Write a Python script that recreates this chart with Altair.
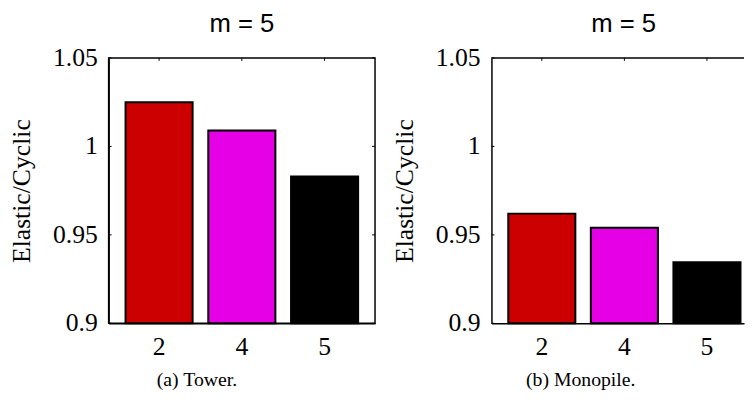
import altair as alt
import pandas as pd

# ---- data ----
categories = ["2", "4", "5"]
tower_values = [1.025, 1.009, 0.983]
monopile_values = [0.962, 0.954, 0.9345]
bar_colors = ["#cc0000", "#e600e6", "#000000"]
y_ticks = [0.9, 0.95, 1.0, 1.05]
y_tick_labels = ["0.9", "0.95", "1", "1.05"]
y_domain = [0.9, 1.05]
panel_title = "m = 5"
captions = ["(a) Tower.", "(b) Monopile."]
y_title = "Elastic/Cyclic"

PLOT_H = 269
UNIT = 87.1  # pixels per category step
SERIF = "Liberation Serif"
SANS = "Liberation Sans"
TICK_FONT = 26


def panel(values, caption, width, full_box, caption_x, title_dx):
    positions = list(range(1, len(categories) + 1))
    df = pd.DataFrame({"pos": positions, "cat": categories, "val": values, "color": bar_colors})
    tick_df = pd.DataFrame({"val": y_ticks, "lab": y_tick_labels})
    x_domain = [0.45, 0.45 + width / UNIT]
    xscale = alt.Scale(domain=x_domain, nice=False, zero=False)
    yscale = alt.Scale(domain=y_domain, nice=False, zero=False)

    x_axis = alt.Axis(
        values=positions, labels=False, ticks=False, tickSize=0, grid=False,
        domain=True, domainColor="black", domainWidth=1.5,
        title=caption, titleFont=SERIF, titleFontSize=20, titleFontWeight="normal",
        titleColor="black", titleX=caption_x, titleY=57, titleBaseline="middle",
        titleAlign="center",
    )
    y_axis = alt.Axis(
        values=y_ticks, labels=False, ticks=False, tickSize=0, grid=False,
        domain=True, domainColor="black", domainWidth=1.5,
        title=y_title, titleFont=SERIF, titleFontSize=26, titleFontWeight="normal",
        titleColor="black", titlePadding=75,
    )

    bars = alt.Chart(df).mark_bar(size=68, stroke="black", strokeWidth=2).encode(
        x=alt.X("pos:Q", scale=xscale, axis=x_axis),
        y=alt.Y("val:Q", scale=yscale, axis=y_axis),
        y2=alt.datum(y_domain[0]),
        color=alt.Color("color:N", scale=None, legend=None),
    )

    # tick labels (serif, like the reference)
    y_labels = alt.Chart(tick_df).mark_text(
        align="right", baseline="middle", font=SERIF, fontSize=TICK_FONT, color="black"
    ).encode(
        y=alt.Y("val:Q", scale=yscale),
        x=alt.value(-11),
        text="lab:N",
    )
    x_labels = alt.Chart(df).mark_text(
        align="center", baseline="middle", font=SERIF, fontSize=TICK_FONT, color="black"
    ).encode(
        x=alt.X("pos:Q", scale=xscale),
        y=alt.value(PLOT_H + 24),
        text="cat:N",
    )

    # inward ticks
    top_ticks = alt.Chart(df).mark_rule(color="black", strokeWidth=1).encode(
        x=alt.X("pos:Q", scale=xscale),
        y=alt.value(0),
        y2=alt.value(3),
    )
    left_ticks = alt.Chart(tick_df).mark_rule(color="black", strokeWidth=1).encode(
        y=alt.Y("val:Q", scale=yscale),
        x=alt.value(0),
        x2=alt.value(3),
    )
    layers = [bars, y_labels, x_labels, top_ticks, left_ticks]
    if full_box:
        right_ticks = alt.Chart(tick_df).mark_rule(color="black", strokeWidth=1).encode(
            y=alt.Y("val:Q", scale=yscale),
            x=alt.value(width - 3),
            x2=alt.value(width),
        )
        layers.append(right_ticks)
        view = alt.ViewBackground(stroke="black", strokeWidth=1.5)
    else:
        top_border = alt.Chart(pd.DataFrame({"k": [0]})).mark_rule(color="black", strokeWidth=1.5).encode(
            x=alt.value(0),
            x2=alt.value(width),
            y=alt.value(0),
        )
        layers.append(top_border)
        view = alt.ViewBackground(stroke="transparent")

    return alt.layer(*layers).properties(
        width=width,
        height=PLOT_H,
        view=view,
        title=alt.TitleParams(
            panel_title, font=SANS, fontSize=26, fontWeight="normal", color="black",
            frame="group", anchor="middle", offset=8, dx=title_dx,
        ),
    )


left = panel(tower_values, captions[0], 270, True, 89, 0)
right = panel(monopile_values, captions[1], 256, False, 90, 6)

chart = alt.hconcat(left, right, spacing=14).properties(padding=0)

chart.save("out.html", embed_options={"renderer": "svg", "actions": False})
